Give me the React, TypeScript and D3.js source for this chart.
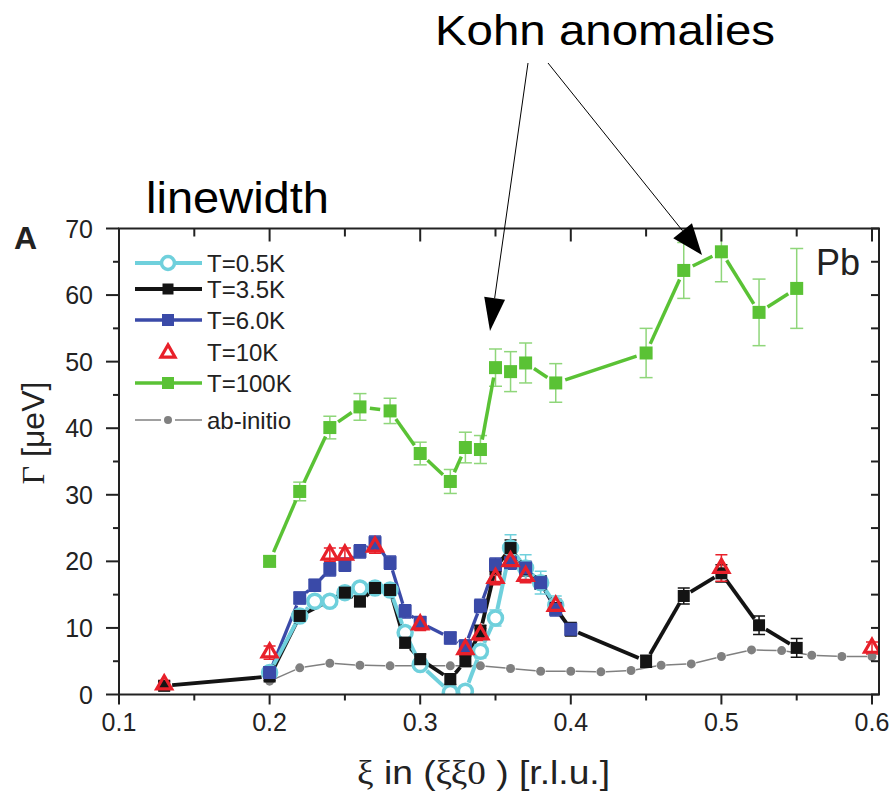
import React from "react";
import * as d3 from "d3";

// ---------------- data ----------------
const X_GREEN = [0.2, 0.22, 0.24, 0.26, 0.28, 0.3, 0.32, 0.33, 0.34, 0.35, 0.36, 0.37, 0.39, 0.45, 0.475, 0.5, 0.525, 0.55];
const Y_GREEN = [20.0, 30.5, 40.1, 43.2, 42.6, 36.2, 32.0, 37.1, 36.8, 49.1, 48.5, 49.8, 46.8, 51.3, 63.7, 66.5, 57.4, 61.0];
const E_GREEN = [0.8, 1.4, 1.7, 2.0, 1.9, 1.7, 1.8, 2.3, 2.1, 2.8, 3.0, 3.0, 2.9, 3.7, 4.2, 4.5, 5.0, 6.0];

const X_CYAN = [0.2, 0.22, 0.23, 0.24, 0.25, 0.26, 0.27, 0.28, 0.29, 0.3, 0.32, 0.33, 0.34, 0.35, 0.36, 0.37, 0.38, 0.39];
const Y_CYAN = [3.3, 11.8, 14.0, 14.0, 15.3, 16.0, 16.0, 15.7, 9.3, 4.5, 0.3, 0.5, 6.5, 11.5, 22.0, 19.0, 16.8, 13.4];
const E_CYAN = [0.8, 0.8, 0.8, 0.8, 0.8, 0.8, 0.8, 0.8, 0.9, 0.8, 0.8, 0.8, 1.0, 1.2, 2.0, 2.0, 1.7, 1.4];

const X_BLACK = [0.13, 0.2, 0.22, 0.25, 0.26, 0.27, 0.28, 0.29, 0.3, 0.32, 0.33, 0.34, 0.35, 0.36, 0.37, 0.38, 0.39, 0.4, 0.45, 0.475, 0.5, 0.525, 0.55];
const Y_BLACK = [1.3, 2.7, 11.8, 15.3, 14.0, 16.0, 15.7, 7.8, 5.3, 2.3, 5.0, 9.5, 19.0, 22.0, 18.8, 16.8, 13.0, 9.8, 5.0, 14.8, 18.2, 10.4, 7.0];
const E_BLACK = [0.6, 0.6, 0.8, 0.8, 0.8, 0.8, 0.8, 0.8, 0.8, 0.8, 0.8, 0.9, 1.0, 1.2, 1.0, 1.0, 1.0, 1.0, 0.9, 1.2, 1.3, 1.4, 1.4];

const X_BLUE = [0.2, 0.22, 0.23, 0.24, 0.25, 0.26, 0.27, 0.28, 0.29, 0.3, 0.32, 0.33, 0.34, 0.35, 0.36, 0.37, 0.38, 0.39, 0.4];
const Y_BLUE = [3.3, 14.5, 16.4, 18.8, 19.5, 21.5, 22.8, 19.8, 12.5, 10.8, 8.5, 7.3, 13.3, 19.5, 19.8, 19.0, 16.8, 12.8, 9.8];
const E_BLUE = [0.8, 0.9, 0.9, 1.0, 1.0, 1.0, 1.0, 1.0, 1.0, 0.9, 0.9, 0.9, 1.0, 1.0, 1.0, 1.0, 1.0, 1.0, 0.9];

const X_RED = [0.13, 0.2, 0.24, 0.25, 0.27, 0.3, 0.33, 0.34, 0.35, 0.36, 0.37, 0.39, 0.5, 0.6];
const Y_RED = [1.5, 6.3, 21.0, 21.0, 22.2, 10.5, 6.8, 9.0, 17.5, 20.0, 17.8, 13.3, 19.0, 7.0];
const E_RED = [0.6, 1.0, 1.0, 1.0, 1.0, 0.9, 0.9, 0.9, 1.0, 1.0, 1.0, 1.0, 2.0, 0.9];

const X_GRAY = [0.2, 0.22, 0.24, 0.26, 0.28, 0.3, 0.32, 0.34, 0.36, 0.38, 0.4, 0.42, 0.44, 0.46, 0.48, 0.5, 0.52, 0.54, 0.56, 0.58, 0.6];
const Y_GRAY = [2.0, 4.0, 4.7, 4.4, 4.3, 4.3, 4.3, 4.3, 3.9, 3.5, 3.5, 3.4, 3.6, 4.4, 4.6, 5.7, 6.7, 6.6, 5.9, 5.7, 5.7];

const LEGEND_LABELS = ["T=0.5K", "T=3.5K", "T=6.0K", "T=10K", "T=100K", "ab-initio"];
const X_MAJOR = [0.1, 0.2, 0.3, 0.4, 0.5, 0.6];
const X_MINOR = [0.15, 0.25, 0.35, 0.45, 0.55];
const Y_MAJOR = [0, 10, 20, 30, 40, 50, 60, 70];
const Y_MINOR = [5, 15, 25, 35, 45, 55, 65];

// ---------------- layout ----------------
const L = 119, R = 879, T = 228.5, B = 694.5;
const FONT = "'Liberation Sans', Arial, Helvetica, sans-serif";
const SERIF = "'Liberation Serif', 'Times New Roman', serif";

const xScale = d3.scaleLinear().domain([0.1, 0.6]).range([119, 872]);
const yScale = d3.scaleLinear().domain([0, 70]).range([B, T]);

type Kind = "circle" | "square" | "triangle" | "dot";
interface Series {
  xs: number[]; ys: number[]; es?: number[];
  color: string; errColor?: string; lw: number; kind: Kind; size: number; gap: number; line: boolean; cap: number;
}

const GREEN: Series = { xs: X_GREEN, ys: Y_GREEN, es: E_GREEN, color: "#5ac235", errColor: "#8fd67a", lw: 3.5, kind: "square", size: 13, gap: 10, line: true, cap: 13 };
const CYAN: Series = { xs: X_CYAN, ys: Y_CYAN, es: E_CYAN, color: "#6fd0dc", lw: 4, kind: "circle", size: 7, gap: 9, line: true, cap: 12 };
const BLACK: Series = { xs: X_BLACK, ys: Y_BLACK, es: E_BLACK, color: "#141414", lw: 3.8, kind: "square", size: 12, gap: 8, line: true, cap: 12 };
const BLUE: Series = { xs: X_BLUE, ys: Y_BLUE, es: E_BLUE, color: "#3a4aa8", lw: 3.3, kind: "square", size: 13, gap: 8, line: true, cap: 12 };
const RED: Series = { xs: X_RED, ys: Y_RED, es: E_RED, color: "#e8202a", lw: 0, kind: "triangle", size: 15, gap: 0, line: false, cap: 12 };
const GRAY: Series = { xs: X_GRAY, ys: Y_GRAY, color: "#808080", lw: 1.5, kind: "dot", size: 4.5, gap: 5, line: true, cap: 0 };

function segments(s: Series) {
  const out: number[][] = [];
  for (let i = 0; i < s.xs.length - 1; i++) {
    const x1 = xScale(s.xs[i]), y1 = yScale(s.ys[i]);
    const x2 = xScale(s.xs[i + 1]), y2 = yScale(s.ys[i + 1]);
    const dx = x2 - x1, dy = y2 - y1, len = Math.hypot(dx, dy);
    if (len <= 2 * s.gap + 1) continue;
    const ux = dx / len, uy = dy / len;
    out.push([x1 + ux * s.gap, y1 + uy * s.gap, x2 - ux * s.gap, y2 - uy * s.gap]);
  }
  return out;
}

function Marker({ kind, cx, cy, size, color }: { kind: Kind; cx: number; cy: number; size: number; color: string }) {
  if (kind === "square") {
    return <rect x={cx - size / 2} y={cy - size / 2} width={size} height={size} fill={color} />;
  }
  if (kind === "circle") {
    return <circle cx={cx} cy={cy} r={size} fill="#fff" stroke={color} strokeWidth={3.5} />;
  }
  if (kind === "dot") {
    return <circle cx={cx} cy={cy} r={size} fill={color} />;
  }
  const s = size;
  const h = s * Math.sqrt(3) / 2;
  const p = `M${cx},${cy - (2 * h) / 3} L${cx + s / 2},${cy + h / 3} L${cx - s / 2},${cy + h / 3} Z`;
  return <path d={p} fill="none" stroke={color} strokeWidth={3.2} strokeLinejoin="miter" />;
}

function Lines({ s }: { s: Series }) {
  return (
    <g>
      {s.es && s.xs.map((x, i) => {
        const cx = xScale(x);
        const y1 = yScale(s.ys[i] + s.es![i]);
        const y2 = yScale(s.ys[i] - s.es![i]);
        const c = s.errColor || s.color;
        return (
          <g key={"e" + i} stroke={c} strokeWidth={1.5}>
            <line x1={cx} x2={cx} y1={y1} y2={y2} />
            <line x1={cx - s.cap / 2} x2={cx + s.cap / 2} y1={y1} y2={y1} />
            <line x1={cx - s.cap / 2} x2={cx + s.cap / 2} y1={y2} y2={y2} />
          </g>
        );
      })}
      {s.line && segments(s).map((sg, i) => (
        <line key={"l" + i} x1={sg[0]} y1={sg[1]} x2={sg[2]} y2={sg[3]} stroke={s.color} strokeWidth={s.lw} strokeLinecap="butt" />
      ))}
    </g>
  );
}

function Markers({ s }: { s: Series }) {
  return (
    <g>
      {s.xs.map((x, i) => (
        <Marker key={i} kind={s.kind} cx={xScale(x)} cy={yScale(s.ys[i])} size={s.size} color={s.color} />
      ))}
    </g>
  );
}

function Arrow({ x1, y1, x2, y2, len, half }: { x1: number; y1: number; x2: number; y2: number; len: number; half: number }) {
  const dx = x2 - x1, dy = y2 - y1, d = Math.hypot(dx, dy);
  const ux = dx / d, uy = dy / d;
  const bx = x2 - ux * len, by = y2 - uy * len;
  const px = -uy, py = ux;
  const pts = `${x2},${y2} ${bx + px * half},${by + py * half} ${bx - px * half},${by - py * half}`;
  return (
    <g>
      <line x1={x1} y1={y1} x2={bx} y2={by} stroke="#000" strokeWidth={1} />
      <polygon points={pts} fill="#000" />
    </g>
  );
}

export default function App() {
  const legendSeries = [CYAN, BLACK, BLUE, RED, GREEN, GRAY];
  const legendY = [263, 289, 320, 352, 383, 420];
  const fmtX = d3.format(".1f");
  return (
    <svg width={891} height={795} style={{ position: "absolute", left: 0, top: 0, background: "#fff" }} fontFamily={FONT}>
      <defs>
        <clipPath id="plotclip">
          <rect x={L} y={T} width={R - L} height={B - T} />
        </clipPath>
      </defs>

      {/* titles */}
      <text x={435} y={45} fontSize={43} textLength={340} lengthAdjust="spacingAndGlyphs" fill="#000">Kohn anomalies</text>
      <text x={146} y={213} fontSize={45} textLength={183} lengthAdjust="spacingAndGlyphs" fill="#000">linewidth</text>
      <text x={14} y={249} fontSize={32} fontWeight="bold" fill="#222">A</text>

      {/* data */}
      <g clipPath="url(#plotclip)">
        <Lines s={GRAY} />
        <Lines s={GREEN} />
        <Lines s={BLUE} />
        <Lines s={BLACK} />
        <Lines s={RED} />
        <Lines s={CYAN} />
        <Markers s={GRAY} />
        <Markers s={GREEN} />
        <Markers s={CYAN} />
        <Markers s={BLACK} />
        <Markers s={BLUE} />
        <Markers s={RED} />
      </g>

      {/* frame */}
      <rect x={L} y={T} width={R - L} height={B - T} fill="none" stroke="#222" strokeWidth={2} />

      {/* ticks */}
      <g stroke="#222" strokeWidth={2}>
        {X_MAJOR.map((v) => (
          <g key={"xM" + v}>
            <line x1={xScale(v)} x2={xScale(v)} y1={B} y2={B + 10} />
            <line x1={xScale(v)} x2={xScale(v)} y1={T} y2={T + 13} />
          </g>
        ))}
        {X_MINOR.map((v) => (
          <g key={"xm" + v}>
            <line x1={xScale(v)} x2={xScale(v)} y1={B} y2={B + 6} />
            <line x1={xScale(v)} x2={xScale(v)} y1={T} y2={T + 8} />
          </g>
        ))}
        {Y_MAJOR.map((v) => (
          <g key={"yM" + v}>
            <line x1={L - 13} x2={L} y1={yScale(v)} y2={yScale(v)} />
            <line x1={R - 8} x2={R} y1={yScale(v)} y2={yScale(v)} />
          </g>
        ))}
        {Y_MINOR.map((v) => (
          <g key={"ym" + v}>
            <line x1={L - 6} x2={L} y1={yScale(v)} y2={yScale(v)} />
            <line x1={R - 8} x2={R} y1={yScale(v)} y2={yScale(v)} />
          </g>
        ))}
      </g>

      {/* tick labels */}
      <g fontSize={25} fill="#222">
        {Y_MAJOR.map((v) => (
          <text key={"yl" + v} x={93} y={yScale(v) + 9} textAnchor="end">{v}</text>
        ))}
      </g>
      <g fontSize={25} fill="#222">
        {X_MAJOR.map((v) => (
          <text key={"xl" + v} x={xScale(v)} y={731} textAnchor="middle">{fmtX(v)}</text>
        ))}
      </g>

      {/* axis titles */}
      <text x={357} y={784} fontSize={34} textLength={253} lengthAdjust="spacingAndGlyphs" fill="#222">
        <tspan fontFamily={SERIF}>ξ</tspan> in (<tspan fontFamily={SERIF}>ξξ0</tspan> ) [r.l.u.]
      </text>
      <text transform="translate(44,433) rotate(-90)" x={0} y={0} fontSize={32} textAnchor="middle" fill="#222">
        <tspan fontFamily={SERIF}>Γ</tspan> [μeV]
      </text>

      <text x={816} y={275} fontSize={36} fill="#222">Pb</text>

      {/* legend */}
      <g>
        {legendSeries.map((s, i) => {
          const y = legendY[i];
          const isRed = s === RED;
          const isGray = s === GRAY;
          return (
            <g key={"lg" + i}>
              {!isRed && (isGray ? (
                <g stroke={s.color} strokeWidth={1.5}>
                  <line x1={135} x2={161} y1={y} y2={y} />
                  <line x1={175} x2={202} y1={y} y2={y} />
                </g>
              ) : (
                <line x1={135} x2={202} y1={y} y2={y} stroke={s.color} strokeWidth={s.lw} />
              ))}
              <Marker kind={s.kind} cx={168} cy={isRed ? y + 1 : y} size={s.kind === "dot" ? 4 : s.kind === "circle" ? 6.5 : s.size - 1} color={s.color} />
              <text x={207} y={y + 9} fontSize={24} fill="#222">{LEGEND_LABELS[i]}</text>
            </g>
          );
        })}
      </g>

      {/* arrows */}
      <Arrow x1={528} y1={63} x2={490} y2={331} len={33} half={10.5} />
      <Arrow x1={548} y1={63} x2={702} y2={255} len={31} half={12} />
    </svg>
  );
}
